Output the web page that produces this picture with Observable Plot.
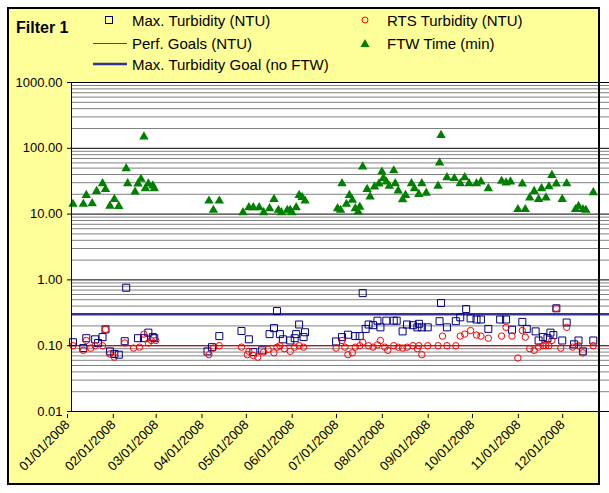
<!DOCTYPE html>
<html><head><meta charset="utf-8">
<script src="https://cdn.jsdelivr.net/npm/d3@7"></script>
<script src="https://cdn.jsdelivr.net/npm/@observablehq/plot@0.6"></script>
<style>
html,body{margin:0;padding:0;background:#fff;overflow:hidden;}
#wrap{position:relative;width:609px;height:493px;overflow:hidden;font-family:Arial,"Liberation Sans",sans-serif;}
#bg{position:absolute;left:7px;top:7px;width:593px;height:478px;background:#FFFF99;}
#border{position:absolute;left:7px;top:7px;width:593px;height:478px;box-sizing:border-box;border:2px solid #000;pointer-events:none;}
#chart{position:absolute;left:0;top:0;}
.leg{position:absolute;font-size:15px;line-height:15px;white-space:nowrap;color:#000;}
.mk{position:absolute;overflow:visible;}
</style></head>
<body>
<div id="wrap">
  <div id="bg"></div>
  <div id="chart"></div>
  <div id="border"></div>
  <div class="leg" style="left:16px;top:20px;font-weight:bold;font-size:16px;line-height:16px;">Filter 1</div>
  <svg class="mk" style="left:105px;top:16px" width="8" height="8"><rect x="0.5" y="0.5" width="7" height="7" fill="none" stroke="#000080"/></svg>
  <div class="leg" style="left:132px;top:12.5px;">Max. Turbidity (NTU)</div>
  <svg class="mk" style="left:93px;top:40px" width="34" height="6"><line x1="0" x2="34" y1="3.5" y2="3.5" stroke="#ff0000" stroke-width="1"/></svg>
  <div class="leg" style="left:132px;top:35.5px;">Perf. Goals (NTU)</div>
  <svg class="mk" style="left:93px;top:61px" width="34" height="6"><line x1="0" x2="34" y1="3" y2="3" stroke="#333399" stroke-width="2.5"/></svg>
  <div class="leg" style="left:132px;top:56.5px;">Max. Turbidity Goal (no FTW)</div>
  <svg class="mk" style="left:361px;top:16px" width="8" height="8"><circle cx="4" cy="4" r="3" fill="none" stroke="#ff0000"/></svg>
  <div class="leg" style="left:387px;top:12.5px;">RTS Turbidity (NTU)</div>
  <svg class="mk" style="left:360px;top:38px" width="10" height="10"><path d="M5,1L9.5,9L0.5,9Z" fill="#008000"/></svg>
  <div class="leg" style="left:387px;top:35.5px;">FTW Time (min)</div>
</div>
<script>
// ---- Data ----
const maxDates = ["2008-01-02","2008-01-09","2008-01-11","2008-01-17","2008-01-19","2008-01-22","2008-01-24","2008-01-27","2008-01-30","2008-02-02","2008-02-06","2008-02-07","2008-02-15","2008-02-19","2008-02-22","2008-02-25","2008-02-26","2008-04-02","2008-04-05","2008-04-10","2008-04-25","2008-04-30","2008-05-03","2008-05-09","2008-05-14","2008-05-17","2008-05-19","2008-05-21","2008-05-23","2008-05-28","2008-05-31","2008-06-01","2008-06-03","2008-06-06","2008-06-07","2008-06-28","2008-07-02","2008-07-06","2008-07-11","2008-07-14","2008-07-16","2008-07-18","2008-07-20","2008-07-23","2008-07-26","2008-07-28","2008-08-01","2008-08-06","2008-08-08","2008-08-12","2008-08-15","2008-08-19","2008-08-22","2008-08-23","2008-08-25","2008-08-29","2008-09-06","2008-09-07","2008-09-11","2008-09-17","2008-09-20","2008-09-24","2008-09-27","2008-10-01","2008-10-04","2008-10-09","2008-10-17","2008-10-21","2008-10-25","2008-11-01","2008-11-04","2008-11-10","2008-11-12","2008-11-15","2008-11-18","2008-11-20","2008-11-22","2008-11-24","2008-11-28","2008-12-01","2008-12-06","2008-12-09","2008-12-12","2008-12-19"];
const maxValues = [0.113,0.092,0.13,0.125,0.11,0.135,0.177,0.082,0.075,0.073,0.117,0.76,0.13,0.13,0.158,0.135,0.13,0.082,0.095,0.14,0.167,0.125,0.08,0.085,0.15,0.185,0.336,0.15,0.125,0.12,0.13,0.15,0.21,0.135,0.16,0.116,0.135,0.147,0.14,0.14,0.63,0.18,0.21,0.205,0.24,0.19,0.24,0.24,0.24,0.165,0.21,0.205,0.19,0.215,0.19,0.19,0.236,0.445,0.19,0.236,0.27,0.36,0.26,0.25,0.25,0.18,0.25,0.25,0.175,0.23,0.18,0.165,0.12,0.135,0.13,0.158,0.145,0.37,0.12,0.225,0.105,0.12,0.082,0.12];

const rtsDates = ["2008-01-02","2008-01-09","2008-01-11","2008-01-14","2008-01-17","2008-01-22","2008-01-24","2008-01-27","2008-01-30","2008-02-06","2008-02-12","2008-02-16","2008-02-19","2008-02-22","2008-02-24","2008-02-27","2008-04-03","2008-04-06","2008-04-10","2008-04-25","2008-04-29","2008-04-30","2008-05-03","2008-05-06","2008-05-10","2008-05-13","2008-05-17","2008-05-19","2008-05-21","2008-05-24","2008-05-28","2008-05-31","2008-06-03","2008-06-06","2008-06-28","2008-07-02","2008-07-04","2008-07-06","2008-07-09","2008-07-11","2008-07-14","2008-07-16","2008-07-20","2008-07-23","2008-07-26","2008-07-28","2008-07-31","2008-08-02","2008-08-06","2008-08-09","2008-08-12","2008-08-15","2008-08-19","2008-08-22","2008-08-23","2008-08-25","2008-08-29","2008-09-05","2008-09-08","2008-09-11","2008-09-17","2008-09-20","2008-09-23","2008-09-27","2008-10-01","2008-10-04","2008-10-09","2008-10-18","2008-10-21","2008-10-25","2008-10-29","2008-11-01","2008-11-03","2008-11-06","2008-11-09","2008-11-12","2008-11-15","2008-11-17","2008-11-19","2008-11-21","2008-11-24","2008-11-27","2008-12-01","2008-12-05","2008-12-09","2008-12-12","2008-12-19"];
const rtsValues = [0.1,0.085,0.12,0.092,0.1,0.1,0.177,0.075,0.067,0.11,0.092,0.095,0.15,0.11,0.12,0.12,0.073,0.092,0.1,0.095,0.073,0.082,0.071,0.067,0.08,0.088,0.078,0.095,0.1,0.09,0.082,0.095,0.1,0.095,0.092,0.12,0.095,0.073,0.078,0.095,0.1,0.113,0.1,0.095,0.103,0.12,0.095,0.085,0.1,0.095,0.092,0.095,0.1,0.09,0.1,0.073,0.1,0.1,0.14,0.1,0.1,0.14,0.15,0.17,0.145,0.14,0.13,0.14,0.19,0.14,0.065,0.17,0.135,0.09,0.085,0.095,0.1,0.1,0.1,0.12,0.37,0.092,0.19,0.095,0.1,0.078,0.1];

const ftwDates = ["2008-01-02","2008-01-09","2008-01-11","2008-01-15","2008-01-18","2008-01-22","2008-01-24","2008-01-27","2008-01-30","2008-02-02","2008-02-07","2008-02-08","2008-02-13","2008-02-15","2008-02-17","2008-02-19","2008-02-20","2008-02-22","2008-02-25","2008-02-26","2008-04-03","2008-04-06","2008-04-10","2008-04-26","2008-04-30","2008-05-03","2008-05-07","2008-05-10","2008-05-14","2008-05-17","2008-05-20","2008-05-22","2008-05-26","2008-05-28","2008-05-29","2008-06-01","2008-06-03","2008-06-05","2008-06-07","2008-06-29","2008-07-01","2008-07-02","2008-07-05","2008-07-07","2008-07-09","2008-07-11","2008-07-13","2008-07-14","2008-07-16","2008-07-19","2008-07-21","2008-07-24","2008-07-27","2008-07-29","2008-07-30","2008-08-01","2008-08-03","2008-08-06","2008-08-07","2008-08-09","2008-08-12","2008-08-14","2008-08-18","2008-08-20","2008-08-23","2008-08-25","2008-08-28","2008-09-05","2008-09-06","2008-09-07","2008-09-11","2008-09-16","2008-09-20","2008-09-23","2008-09-26","2008-10-01","2008-10-04","2008-10-09","2008-10-18","2008-10-21","2008-10-24","2008-10-29","2008-11-01","2008-11-03","2008-11-06","2008-11-09","2008-11-12","2008-11-14","2008-11-17","2008-11-19","2008-11-21","2008-11-24","2008-11-28","2008-12-01","2008-12-07","2008-12-09","2008-12-12","2008-12-14","2008-12-19"];
const ftwValues = [14.2,14.2,19.4,14.5,22.3,29.2,23.8,13.3,16.8,13.2,49.4,29.2,21.8,29,34,150,24.5,29,27,24.5,15.9,11.5,15.9,10.6,12.6,12.6,12.6,10.6,12.2,16.8,11.5,10.6,11.5,11.5,10.6,12.6,19.4,18,15.9,12.2,11.5,29.2,14.2,19.4,16.3,12.2,10.8,12.8,52.4,23.9,18.4,26.1,29,43.9,35,31,26.6,45.8,29.2,22.6,16.7,19.4,29.2,24.5,20,29.2,20.9,26.7,60.3,158,36.1,34.9,29.2,36,29.2,29.2,31,24.5,31.7,30,31,11.8,29,11.8,17.7,22.3,16.8,24.5,17.7,26.2,39,29,16.8,29.2,11.8,13.2,11.8,11.5,21.3];

const perfGoal = [0.1];      // Perf. Goals (NTU)
const maxTurbGoal = [0.3];   // Max. Turbidity Goal (no FTW)

const yTickValues = [0.01, 0.1, 1, 10, 100, 1000];
const xTickLabels = ["01/01/2008","02/01/2008","03/01/2008","04/01/2008","05/01/2008","06/01/2008","07/01/2008","08/01/2008","09/01/2008","10/01/2008","11/01/2008","12/01/2008"];
const xDomain = ["2008-01-01","2009-01-01"];

// ---- Build ----
const parse = d3.utcParse("%Y-%m-%d");
const parseLbl = d3.utcParse("%m/%d/%Y");
const toRows = (ds, vs) => ds.map((d, i) => ({date: parse(d), value: vs[i]}));
const maxData = toRows(maxDates, maxValues);
const rtsData = toRows(rtsDates, rtsValues);
const ftwData = toRows(ftwDates, ftwValues);
const xTicks = xTickLabels.map(parseLbl);
const minorTicks = d3.scaleLog().domain([yTickValues[0], yTickValues[yTickValues.length-1]]).ticks()
  .filter(v => Math.abs(Math.log10(v) - Math.round(Math.log10(v))) > 1e-6);

const chart = Plot.plot({
  width: 613, height: 493,
  marginLeft: 71, marginRight: 1, marginTop: 82, marginBottom: 82,
  style: {background: "transparent", fontFamily: "Arial, 'Liberation Sans', sans-serif", fontSize: "13px", color: "#000", maxWidth: "none", overflow: "visible"},
  x: {type: "utc", domain: xDomain.map(parse)},
  y: {type: "log", domain: [yTickValues[0], yTickValues[yTickValues.length-1]]},
  marks: [
    Plot.frame({fill: "white", stroke: null}),
    Plot.ruleY(minorTicks, {stroke: "#808080", strokeWidth: 1}),
    Plot.ruleY(yTickValues, {stroke: "#000", strokeWidth: 1}),
    Plot.ruleY(maxTurbGoal, {stroke: "#333399", strokeWidth: 2.5}),
    Plot.ruleY(perfGoal, {stroke: "#ff0000", strokeWidth: 1}),
    Plot.dot(maxData, {x: "date", y: "value", symbol: "square", r: 3.95, stroke: "#000080", fill: "none", strokeWidth: 1}),
    Plot.dot(rtsData, {x: "date", y: "value", symbol: "circle", r: 3.2, stroke: "#ff0000", fill: "none", strokeWidth: 1}),
    Plot.dot(ftwData, {x: "date", y: "value", symbol: "triangle", r: 3.5, fill: "#008000", stroke: "none"}),
    Plot.axisY({ticks: yTickValues, tickFormat: d3.format(".2f"), tickSize: 4, tickPadding: 5, label: null}),
    Plot.axisX({ticks: xTicks, tickFormat: d3.utcFormat("%m/%d/%Y"), tickRotate: -45, tickSize: 4, tickPadding: 4, dx: -4, dy: 3, label: null}),
    Plot.frame({stroke: "#000", strokeWidth: 1})
  ]
});
document.getElementById("chart").appendChild(chart);
</script>
</body></html>
